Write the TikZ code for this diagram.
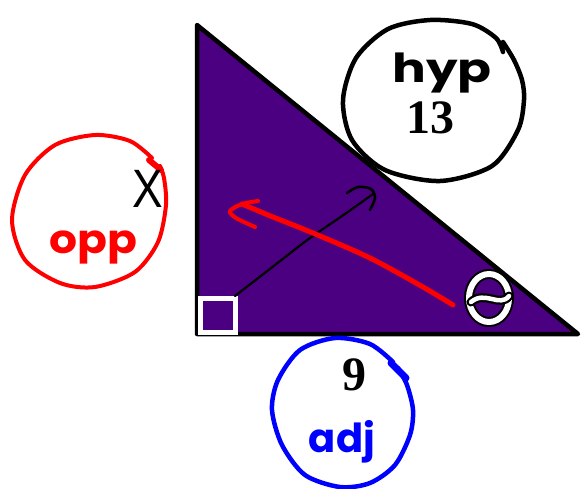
\documentclass[tikz,border=0pt]{standalone}
\usepackage{fontspec}
\setmainfont{Liberation Serif}
\newfontfamily\sansX{Liberation Sans}
\newfontfamily\hand{Poppins}
\definecolor{tri}{RGB}{75,0,130}
\definecolor{pen}{RGB}{255,0,0}
\definecolor{bpen}{RGB}{0,0,255}
\tikzset{
  num/.style={font=\bfseries\fontsize{48}{48}\selectfont, anchor=base, inner sep=0},
  word/.style={font=\hand\bfseries\fontsize{40}{40}\selectfont, anchor=base, inner sep=0},
  loopline/.style={line width=#1, line cap=round, line join=round},
}
\begin{document}
\begin{tikzpicture}[x=1pt,y=-1pt]
\useasboundingbox (0,0) rectangle (581,488);
\fill[white] (0,0) rectangle (581,488);
% triangle
\coordinate (A) at (197,25);
\coordinate (B) at (197,334);
\coordinate (C) at (578,334);
\draw[line width=4.5, fill=tri, line join=round] (A) -- (B) -- (C) -- cycle;
% right-angle mark
\draw[white, line width=5] (200.5,298.5) rectangle (235.5,332.5);
% black arrow
\draw[loopline=2.2] plot[smooth] coordinates {(235,296) (275,265) (310,238) (345,214) (373,194)};
\draw[loopline=2.6] plot[smooth] coordinates {(347,193) (358,187) (371,189) (375,198) (370,210)};
% red arrow
\draw[pen, loopline=5] plot[smooth] coordinates {(453,305) (423,287) (370,258) (313,233) (273,217) (242,204)};
\draw[pen, loopline=4] plot[smooth] coordinates {(258,201) (242,204) (230,211) (236,218) (255,227)};
% theta
\draw[line width=10] (489,298) ellipse [x radius=20, y radius=24];
\draw[white, line width=6] (489,298) ellipse [x radius=20, y radius=24];
\draw[loopline=9] (471,302) .. controls (485,290) and (500,308) .. (509,296);
\draw[white, loopline=4.5] (471,302) .. controls (485,290) and (500,308) .. (509,296);
% hyp circle
\draw[loopline=4.5] plot[smooth] coordinates {(503,42) (514,60) (522,80) (524,100) (518,130) (492,166) (440,181) (385,170) (352,140) (343,100) (356,58) (388,29) (430,20) (472,24) (496,38) (503,52)};
% red circle
\draw[pen, loopline=4] plot[smooth] coordinates {(152,158) (130,141) (95,135) (55,145) (25,175) (12,220) (25,260) (60,283) (95,287) (135,272) (158,242) (166,205) (164,178) (160,166)};
\draw[pen, loopline=6] (149,160) -- (161,170);
% blue circle
\draw[bpen, loopline=4.5] plot[smooth] coordinates {(393,362) (370,344) (335,338) (300,350) (278,380) (272,410) (282,445) (305,475) (340,487) (370,483) (395,465) (410,435) (413,410) (407,385) (398,368)};
\draw[bpen, loopline=7] (391,363) -- (406,378);
% labels
\node[num] (hypval) at (430,133) {13};
\node[num] (adjval) at (354,390) {9};
\node[font=\sansX\fontsize{54}{54}\selectfont, anchor=base, inner sep=0] (oppval) at (148,207) {\scalebox{0.85}[1]{X}};
\node[word] (hyp) at (442,82) {\scalebox{1.25}[1]{hyp}};
\node[word, pen] (opp) at (93,253) {\scalebox{1.1}[1]{opp}};
\node[word, bpen] (adj) at (342,452) {adj};
\end{tikzpicture}
\end{document}
